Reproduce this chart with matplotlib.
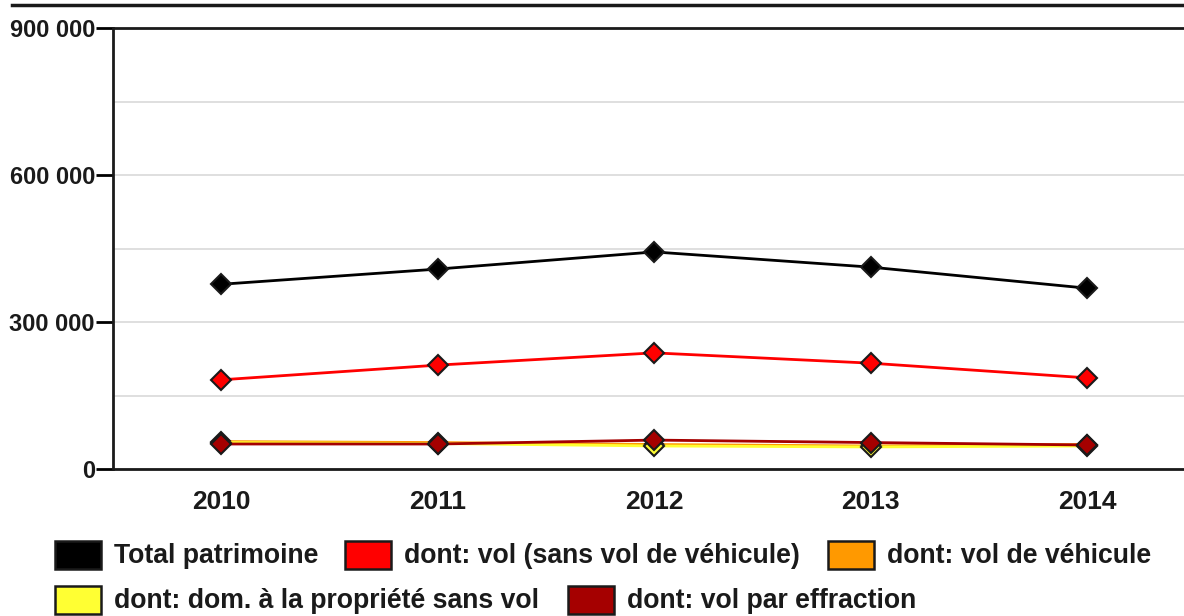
import matplotlib.pyplot as plt
from matplotlib.patches import Rectangle
from matplotlib.lines import Line2D
import numpy as np

plt.rcParams['font.family'] = ['Liberation Sans', 'DejaVu Sans']

# Data
years = [2010, 2011, 2012, 2013, 2014]
total = [377000, 408000, 443000, 412000, 369000]
vol_sans_vehicule = [182000, 212000, 237000, 216000, 186000]
vol_vehicule = [56000, 54000, 50000, 47000, 50000]
dom_propriete = [54000, 52000, 47000, 45000, 47000]
vol_effraction = [51000, 51000, 59000, 54000, 49000]

series = [
    ('Total patrimoine', total, '#000000'),
    ('dont: vol (sans vol de véhicule)', vol_sans_vehicule, '#ff0000'),
    ('dont: vol de véhicule', vol_vehicule, '#ff9900'),
    ('dont: dom. à la propriété sans vol', dom_propriete, '#ffff33'),
    ('dont: vol par effraction', vol_effraction, '#a50000'),
]

fig = plt.figure(figsize=(11.84, 6.16), dpi=100)
ax = fig.add_axes([113 / 1184, 1 - 469 / 616, 1 - 113 / 1184, 441 / 616])

for name, vals, col in series:
    ax.plot(years, vals, color=col, lw=2, marker='D', ms=10,
            markerfacecolor=col, markeredgecolor='#1a1a1a', markeredgewidth=1.5)

ax.set_xlim(2009.5, 2014 + 97 / 216.5)
ax.set_ylim(0, 900000)
ax.set_yticks([0, 300000, 600000, 900000])
ax.set_yticklabels(['0', '300 000', '600 000', '900 000'])
ax.set_yticks(np.arange(0, 900001, 150000), minor=True)
ax.set_xticks(years)
ax.set_xticklabels([str(y) for y in years])
ax.grid(True, which='both', axis='y', color='#d9d9d9', lw=1.2, zorder=0)
ax.set_axisbelow(True)
ax.tick_params(axis='y', which='major', length=12, width=2, labelsize=17, pad=1)
ax.tick_params(axis='y', which='minor', length=0)
ax.tick_params(axis='x', length=0, labelsize=19, pad=15)
for lbl in ax.get_xticklabels() + ax.get_yticklabels():
    lbl.set_fontweight('bold')
    lbl.set_color('#1a1a1a')
for s in ['left', 'bottom', 'top']:
    ax.spines[s].set_linewidth(2)
    ax.spines[s].set_color('#1a1a1a')
ax.spines['right'].set_visible(False)

# top rule above chart
fig.add_artist(Line2D([12 / 1184, 1], [1 - 5 / 616, 1 - 5 / 616],
                      color='#1a1a1a', lw=2.5, transform=fig.transFigure))

# legend laid out in two rows
items = [(55, 555, 0), (345, 555, 1), (828, 555, 2), (55, 600, 3), (568, 600, 4)]
for x, y, i in items:
    name, _, col = series[i]
    fig.add_artist(Rectangle((x / 1184, 1 - (y + 14) / 616), 46 / 1184, 28 / 616,
                             facecolor=col, edgecolor='#1a1a1a', lw=1.8,
                             transform=fig.transFigure))
    fig.text((x + 59) / 1184, 1 - (y + 1) / 616, name, fontsize=19.2, fontweight='bold',
             color='#1a1a1a', va='center', ha='left')

fig.savefig('out.png', dpi=100, facecolor='white')
